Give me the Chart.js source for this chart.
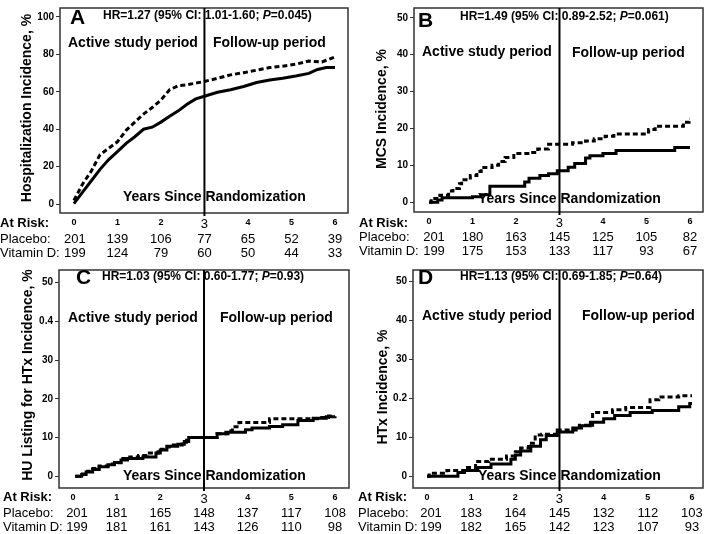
<!DOCTYPE html>
<html>
<head>
<meta charset="utf-8">
<script src="https://cdn.jsdelivr.net/npm/chart.js@4.4.1/dist/chart.umd.min.js"></script>
<style>
  body { margin: 0; background: #fff; }
  #wrap { position: relative; width: 709px; height: 534px; overflow: hidden; }
  canvas { position: absolute; }
</style>
</head>
<body>
<div id="wrap">
  <canvas id="pA" width="354" height="262" style="left:0;top:0"></canvas>
  <canvas id="pB" width="355" height="262" style="left:354px;top:0"></canvas>
  <canvas id="pC" width="354" height="272" style="left:0;top:262px"></canvas>
  <canvas id="pD" width="355" height="272" style="left:354px;top:262px"></canvas>
</div>
<script>
const years = [0, 1, 2, 3, 4, 5, 6];

// A - hospitalization
const hospPlaceboTime = [0, 0.2, 0.4, 0.6, 0.8, 1.0, 1.2, 1.4, 1.6, 1.8, 2.0, 2.2, 2.4, 2.6, 2.8, 3.0, 3.3, 3.6, 3.9, 4.2, 4.5, 4.8, 5.1, 5.4, 5.6, 5.8, 6.0];
const hospPlaceboPct  = [0.3, 6.4, 12.5, 18.6, 23.8, 28.1, 32.5, 36, 40, 41.1, 43.8, 46.9, 49.8, 53.3, 56.2, 57.6, 59.7, 61.1, 62.8, 64.9, 66.3, 67.2, 68.4, 69.8, 71.9, 72.9, 72.9];
const hospVitDTime = [0, 0.2, 0.4, 0.6, 0.8, 1.0, 1.2, 1.4, 1.6, 1.8, 2.0, 2.2, 2.4, 2.6, 2.8, 3.0, 3.3, 3.6, 3.9, 4.2, 4.5, 4.8, 5.1, 5.4, 5.7, 6.0];
const hospVitDPct  = [2, 10.8, 17.7, 26.4, 29.9, 33.3, 39.4, 43.8, 48.1, 51.6, 55.6, 61.1, 63.2, 63.7, 64.6, 65.5, 67.2, 69, 70.2, 71.5, 72.9, 73.6, 74.7, 76.4, 75.9, 78.5];
const hospRiskPlacebo = [201, 139, 106, 77, 65, 52, 39];
const hospRiskVitD    = [199, 124, 79, 60, 50, 44, 33];

// B - MCS
const mcsPlaceboTime = [0, 0.2, 0.3, 1.0, 1.2, 1.4, 2.2, 2.3, 2.55, 2.75, 2.95, 3.2, 3.35, 3.6, 3.7, 4.0, 4.3, 5.65, 6.0];
const mcsPlaceboPct  = [0, 0.6, 1.2, 1.5, 2.0, 4.3, 5.5, 6.5, 7.2, 7.7, 8.5, 9.5, 10.5, 12.0, 12.6, 13.2, 14.0, 14.8, 14.8];
const mcsVitDTime = [0, 0.05, 0.25, 0.45, 0.55, 0.7, 0.75, 0.95, 1.1, 1.2, 1.45, 1.6, 1.75, 1.95, 2.35, 2.5, 2.75, 3.3, 3.6, 3.8, 4.05, 4.25, 4.95, 5.05, 5.2, 5.85, 5.98, 6.0];
const mcsVitDPct  = [0, 1.0, 1.9, 3.0, 3.7, 5.0, 6.1, 7.2, 8.3, 9.4, 10.0, 11.0, 12.1, 13.2, 13.5, 14.4, 15.7, 16.1, 16.6, 17.2, 17.9, 18.5, 19.0, 19.7, 20.6, 21.7, 22.6, 22.6];
const mcsRiskPlacebo = [201, 180, 163, 145, 125, 105, 82];
const mcsRiskVitD    = [199, 175, 153, 133, 117, 93, 67];

// C - HU listing for HTx
const huPlaceboTime = [0.05, 0.2, 0.3, 0.45, 0.6, 0.8, 0.95, 1.1, 1.25, 1.6, 1.9, 2.0, 2.15, 2.4, 2.55, 2.65, 3.3, 3.5, 3.95, 4.1, 4.5, 4.8, 5.15, 5.5, 5.8, 6.0];
const huPlaceboPct  = [0, 0.5, 1.1, 1.8, 2.5, 3.0, 3.6, 4.2, 4.6, 5.0, 6.0, 6.8, 7.8, 8.3, 9.0, 10.0, 11.0, 11.4, 12.0, 12.5, 12.9, 13.3, 14.4, 15.0, 15.4, 15.5];
const huVitDTime = [0.05, 0.15, 0.3, 0.4, 0.6, 0.85, 1.0, 1.1, 1.3, 1.5, 1.7, 1.95, 2.1, 2.25, 2.5, 2.6, 3.3, 3.55, 3.65, 3.8, 4.5, 5.6, 5.85, 6.0];
const huVitDPct  = [0, 0.6, 1.3, 2.0, 2.7, 3.2, 3.5, 4.6, 5.0, 5.4, 6.0, 7.0, 7.6, 8.1, 8.8, 10.0, 11.0, 11.8, 12.8, 13.9, 14.9, 15.2, 15.6, 15.6];
const huRiskPlacebo = [201, 181, 165, 148, 137, 117, 108];
const huRiskVitD    = [199, 181, 161, 143, 126, 110, 98];

// D - HTx
const htxPlaceboTime = [0, 0.7, 0.85, 1.15, 1.45, 1.9, 2.0, 2.12, 2.35, 2.57, 2.7, 2.95, 3.3, 3.5, 3.7, 4.0, 4.25, 4.6, 5.1, 5.7, 5.95, 6.0];
const htxPlaceboPct  = [0, 1.0, 1.5, 2.3, 3.2, 4.4, 5.5, 6.5, 7.7, 9.4, 10.5, 11.4, 12.4, 13.0, 13.9, 14.8, 15.6, 16.4, 16.9, 17.9, 18.7, 18.7];
const htxVitDTime = [0, 0.05, 0.45, 0.85, 1.1, 1.4, 1.8, 2.0, 2.12, 2.3, 2.45, 2.6, 2.95, 3.45, 3.75, 4.2, 4.5, 5.05, 5.25, 5.7, 6.0];
const htxVitDPct  = [0, 0.8, 1.5, 2.3, 3.8, 4.4, 5.2, 6.3, 7.3, 8.5, 10.6, 10.8, 11.9, 13.1, 16.4, 17.1, 17.7, 19.7, 20.4, 20.7, 20.7];
const htxRiskPlacebo = [201, 183, 164, 145, 132, 112, 103];
const htxRiskVitD    = [199, 182, 165, 142, 123, 107, 93];

// y tick values and their printed labels
const yValsA = [0, 20, 40, 60, 80, 100];
const yLabelsA = ['0', '20', '40', '60', '80', '100'];
const yVals50 = [0, 10, 20, 30, 40, 50];
const yLabelsB = ['0', '10', '20', '30', '40', '50'];
const yLabelsC = ['0', '10', '20', '30', '0.4', '50'];
const yLabelsD = ['0', '10', '0.2', '30', '40', '50'];

const FONT = "'Liberation Sans', Arial, Helvetica, sans-serif";

const panels = [
  { id: 'pA', letter: 'A', title: 'Hospitalization Incidence, %',
    hr: ['HR=1.27 (95% CI: 1.01-1.60; ', '=0.045)'],
    pT: hospPlaceboTime, pV: hospPlaceboPct, vT: hospVitDTime, vV: hospVitDPct, stepped: false,
    riskP: hospRiskPlacebo, riskV: hospRiskVitD, yVals: yValsA, yLabels: yLabelsA,
    xMin: -0.32, xMax: 6.30, yMin: -4.7, yMax: 104.7,
    yw: 60, xh: 49, padTop: 3, padRight: 6,
    letterXY: [70, 18], hrXY: [103, 16], activeXY: [68, 43], followXY: [213, 43], yearsXY: [123, 197],
    titleXY: [27, 108], riskX: 0, riskY: [223, 239, 253], firstShift: 1 },
  { id: 'pB', letter: 'B', title: 'MCS Incidence, %',
    hr: ['HR=1.49 (95% CI: 0.89-2.52; ', '=0.061)'],
    pT: mcsPlaceboTime, pV: mcsPlaceboPct, vT: mcsVitDTime, vV: mcsVitDPct, stepped: true,
    riskP: mcsRiskPlacebo, riskV: mcsRiskVitD, yVals: yVals50, yLabels: yLabelsB,
    xMin: -0.345, xMax: 6.30, yMin: -2.67, yMax: 52.67,
    yw: 60, xh: 50, padTop: 5, padRight: 6,
    letterXY: [64, 21], hrXY: [106, 17], activeXY: [68, 52], followXY: [218, 53], yearsXY: [124, 199],
    titleXY: [28, 109], riskX: 5, riskY: [223, 237, 251], firstShift: 5 },
  { id: 'pC', letter: 'C', title: 'HU Listing for HTx Incidence, %',
    hr: ['HR=1.03 (95% CI: 0.60-1.77; ', '=0.93)'],
    pT: huPlaceboTime, pV: huPlaceboPct, vT: huVitDTime, vV: huVitDPct, stepped: true,
    riskP: huRiskPlacebo, riskV: huRiskVitD, yVals: yVals50, yLabels: yLabelsC,
    xMin: -0.32, xMax: 6.32, yMin: -3, yMax: 53.25,
    yw: 59, xh: 46, padTop: 1, padRight: 5,
    letterXY: [76, 16], hrXY: [102, 15], activeXY: [68, 56], followXY: [220, 56], yearsXY: [123, 214],
    titleXY: [28, 113], riskX: 3, riskY: [235, 251, 265], firstShift: 4 },
  { id: 'pD', letter: 'D', title: 'HTx Incidence, %',
    hr: ['HR=1.13 (95% CI: 0.69-1.85; ', '=0.64)'],
    pT: htxPlaceboTime, pV: htxPlaceboPct, vT: htxVitDTime, vV: htxVitDPct, stepped: true,
    riskP: htxRiskPlacebo, riskV: htxRiskVitD, yVals: yVals50, yLabels: yLabelsD,
    xMin: -0.317, xMax: 6.25, yMin: -2.99, yMax: 52.99,
    yw: 59, xh: 46, padTop: 1, padRight: 6,
    letterXY: [64, 16], hrXY: [106, 15], activeXY: [68, 54], followXY: [228, 54], yearsXY: [124, 214],
    titleXY: [29, 125], riskX: 4, riskY: [235, 251, 265], firstShift: 4 }
];

function pts(t, v) { return t.map((x, i) => ({ x: x, y: v[i] })); }

const decor = {
  id: 'decor',
  afterDatasetsDraw(chart, args, o) {
    const p = o.panel;
    const { ctx, chartArea: a } = chart;
    const x = chart.scales.x;
    ctx.save();
    // box
    ctx.strokeStyle = '#333';
    ctx.lineWidth = 1.5;
    ctx.strokeRect(a.left, a.top, a.right - a.left, a.bottom - a.top);
    // end of active study period
    const x3 = x.getPixelForValue(3);
    ctx.strokeStyle = '#000';
    ctx.lineWidth = 2;
    ctx.beginPath();
    ctx.moveTo(x3, a.top);
    ctx.lineTo(x3, a.bottom + 3);
    ctx.stroke();

    ctx.fillStyle = '#000';
    ctx.textBaseline = 'middle';
    ctx.textAlign = 'left';
    ctx.font = 'bold 21px ' + FONT;
    ctx.fillText(p.letter, p.letterXY[0], p.letterXY[1]);

    ctx.font = 'bold 12px ' + FONT;
    let hx = p.hrXY[0];
    ctx.fillText(p.hr[0], hx, p.hrXY[1]);
    hx += ctx.measureText(p.hr[0]).width;
    ctx.font = 'italic bold 12px ' + FONT;
    ctx.fillText('P', hx, p.hrXY[1]);
    hx += ctx.measureText('P').width;
    ctx.font = 'bold 12px ' + FONT;
    ctx.fillText(p.hr[1], hx, p.hrXY[1]);

    ctx.font = 'bold 14px ' + FONT;
    ctx.fillText('Active study period', p.activeXY[0], p.activeXY[1]);
    ctx.fillText('Follow-up period', p.followXY[0], p.followXY[1]);
    ctx.fillText('Years Since Randomization', p.yearsXY[0], p.yearsXY[1]);

    // y axis title
    ctx.save();
    ctx.translate(p.titleXY[0], p.titleXY[1]);
    ctx.rotate(-Math.PI / 2);
    ctx.textAlign = 'center';
    ctx.fillText(p.title, 0, 0);
    ctx.restore();

    // numbers at risk
    ctx.font = 'bold 13px ' + FONT;
    ctx.fillText('At Risk:', p.riskX, p.riskY[0]);
    ctx.font = '13px ' + FONT;
    ctx.fillText('Placebo:', p.riskX, p.riskY[1]);
    ctx.fillText('Vitamin D:', p.riskX, p.riskY[2]);
    ctx.textAlign = 'center';
    years.forEach((yr, i) => {
      const px = x.getPixelForValue(yr) + (i === 0 ? p.firstShift : 0);
      ctx.fillText(String(p.riskP[i]), px, p.riskY[1]);
      ctx.fillText(String(p.riskV[i]), px, p.riskY[2]);
    });
    ctx.restore();
  }
};

panels.forEach(p => {
  new Chart(document.getElementById(p.id), {
    type: 'line',
    data: {
      datasets: [
        { label: 'Placebo', data: pts(p.pT, p.pV), stepped: p.stepped, borderColor: '#000',
          borderWidth: 3, pointRadius: 0, fill: false },
        { label: 'Vitamin D', data: pts(p.vT, p.vV), stepped: p.stepped, borderColor: '#000',
          borderWidth: 3, borderDash: [5, 3], pointRadius: 0, fill: false }
      ]
    },
    options: {
      responsive: false,
      animation: false,
      layout: { padding: { top: p.padTop, right: p.padRight, left: 0, bottom: 0 } },
      plugins: { legend: { display: false }, tooltip: { enabled: false }, decor: { panel: p } },
      scales: {
        x: {
          type: 'linear', min: p.xMin, max: p.xMax,
          afterBuildTicks: s => { s.ticks = years.map(v => ({ value: v })); },
          afterFit: s => { s.height = p.xh; },
          grid: { display: false, drawTicks: false }, border: { display: false },
          ticks: {
            color: '#000', padding: 4, maxRotation: 0, autoSkip: false,
            font: c => (c.tick && c.tick.value === 3) ? { family: FONT, size: 13 } : { family: FONT, size: 9, weight: 'bold' }
          }
        },
        y: {
          type: 'linear', min: p.yMin, max: p.yMax,
          afterBuildTicks: s => { s.ticks = p.yVals.map(v => ({ value: v })); },
          afterFit: s => { s.width = p.yw; },
          grid: { drawOnChartArea: false, tickLength: 4, color: '#333' }, border: { display: false },
          ticks: {
            color: '#000', padding: 2,
            font: { family: FONT, size: 10, weight: 'bold' },
            callback: v => p.yLabels[p.yVals.indexOf(v)]
          }
        }
      }
    },
    plugins: [decor]
  });
});
</script>
</body>
</html>
